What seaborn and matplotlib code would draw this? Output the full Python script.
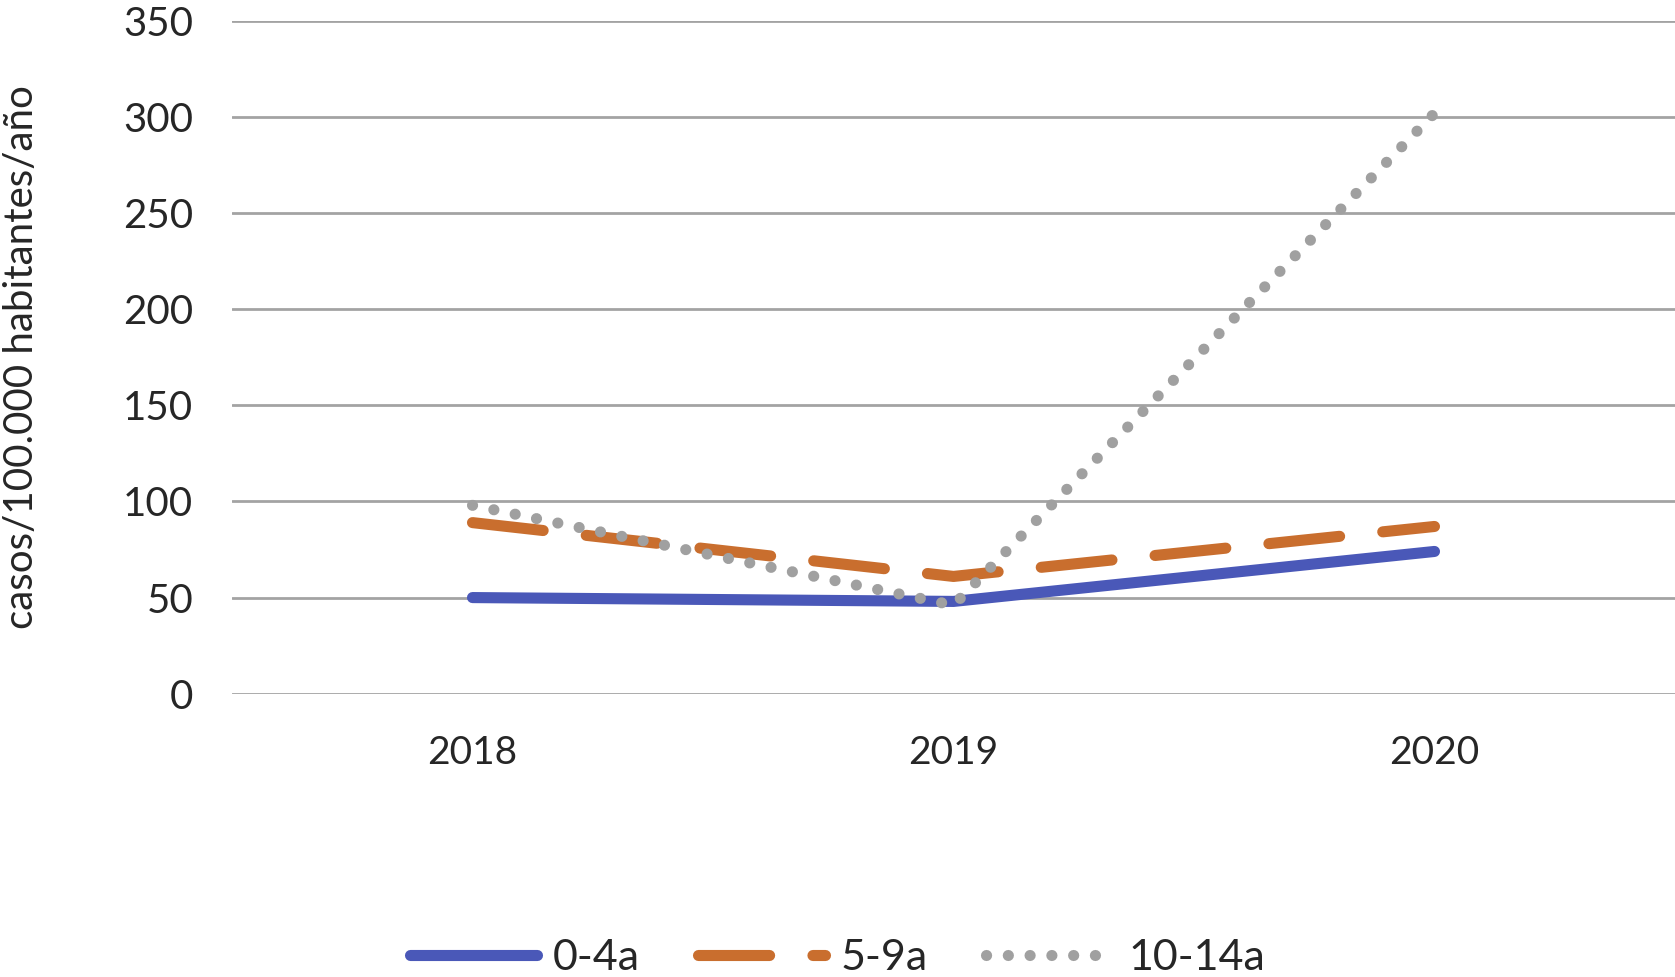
import pandas as pd
import matplotlib
matplotlib.use('Agg')
import matplotlib.pyplot as plt
import seaborn as sns

# Data
years = ['2018', '2019', '2020']
groups = ['0-4a', '5-9a', '10-14a']
rate_0_4 = [50, 48, 74]
rate_5_9 = [89, 61, 87]
rate_10_14 = [98, 46, 302]

df = pd.DataFrame({
    'year': years * 3,
    'group': [groups[0]] * 3 + [groups[1]] * 3 + [groups[2]] * 3,
    'rate': rate_0_4 + rate_5_9 + rate_10_14,
})

sns.set_theme(style='white')
plt.rcParams['font.family'] = ['Lato', 'DejaVu Sans']

colors = {'0-4a': '#4A58B8', '5-9a': '#C96E2E', '10-14a': '#A0A0A0'}
dashes = {'0-4a': '', '5-9a': (6.4, 3.9), '10-14a': (0.01, 1.95)}
widths = {'0-4a': 8, '5-9a': 8, '10-14a': 8}

fig = plt.figure(figsize=(16.75, 9.77), dpi=100)
ax = fig.add_axes([0.1385, 0.29, 0.8615, 0.6885])

sns.lineplot(data=df, x='year', y='rate', hue='group', style='group',
             hue_order=groups, style_order=groups, palette=colors,
             dashes=dashes, legend=False, ax=ax, sort=False)

for line, g in zip(ax.lines, groups):
    line.set_linewidth(widths[g])
    line.set_dash_capstyle('round')
    line.set_solid_capstyle('round')

ax.set_xlim(-0.5, 2.5)
ax.set_ylim(0, 350)
ax.set_yticks(range(0, 351, 50))
ax.yaxis.grid(True, color='#A3A3A3', linewidth=2)
ax.xaxis.grid(False)
ax.set_axisbelow(True)
sns.despine(ax=ax, left=True, bottom=True)
ax.tick_params(axis='y', labelsize=29, length=0, pad=28)
ax.tick_params(axis='x', labelsize=28, length=0, pad=30)
ax.set_xlabel('')
ax.set_ylabel('casos/100.000 habitantes/año', fontsize=29)
ax.yaxis.set_label_coords(-0.133, 0.5)

fig.legend(ax.lines[:3], groups, loc='lower center', bbox_to_anchor=(0.5, -0.04),
           ncol=3, frameon=False, fontsize=31, handlelength=2.97,
           handletextpad=0.35, columnspacing=1.35)

fig.savefig('out.png', dpi=100)
